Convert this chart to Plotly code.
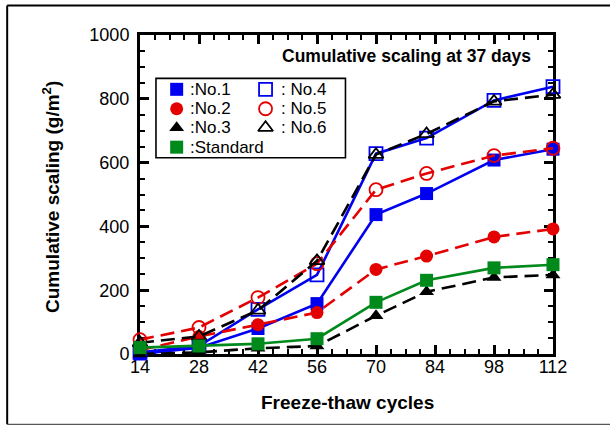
import plotly.graph_objects as go

# ---------------- data ----------------
cycles = [14, 28, 42, 56, 70, 82, 98, 112]
x_ticks = [14, 28, 42, 56, 70, 84, 98, 112]
y_ticks = [0, 200, 400, 600, 800, 1000]

no1 = [0, 20, 80, 158, 437, 503, 608, 642]
no2 = [12, 55, 92, 130, 265, 307, 367, 392]
no3 = [0, 5, 18, 25, 120, 195, 240, 248]
no4 = [5, 25, 140, 248, 628, 677, 795, 838]
no5 = [45, 83, 177, 283, 515, 566, 622, 645]
no6 = [35, 55, 137, 292, 625, 690, 792, 813]
std = [20, 25, 32, 48, 162, 231, 270, 280]

series_names = ["No.1", "No.2", "No.3", "No.4", "No.5", "No.6", "Standard"]
legend_labels = [":No.1", ":No.2", ":No.3", ": No.4", ": No.5", ": No.6", ":Standard"]

BLUE = "#0000f0"
RED = "#e40000"
GREEN = "#008a1c"
BLACK = "#000000"
FONT = "Liberation Sans, Arial, sans-serif"
DASH = "14px,7px"

styles = {
    "No.1": dict(color=BLUE, dash="solid", symbol="square", open=False),
    "No.2": dict(color=RED, dash=DASH, symbol="circle", open=False),
    "No.3": dict(color=BLACK, dash=DASH, symbol="triangle-up", open=False),
    "No.4": dict(color=BLUE, dash="solid", symbol="square-open", open=True),
    "No.5": dict(color=RED, dash=DASH, symbol="circle-open", open=True),
    "No.6": dict(color=BLACK, dash=DASH, symbol="triangle-up-open", open=True),
    "Standard": dict(color=GREEN, dash="solid", symbol="square", open=False),
}
values = {"No.1": no1, "No.2": no2, "No.3": no3, "No.4": no4,
          "No.5": no5, "No.6": no6, "Standard": std}
draw_order = ["No.1", "No.4", "No.2", "No.5", "No.3", "No.6", "Standard"]

fig = go.Figure()


def marker_for(st, size):
    if st["open"]:
        return dict(symbol=st["symbol"], size=size, color=st["color"],
                    line=dict(color=st["color"], width=1.8))
    return dict(symbol=st["symbol"], size=size, color=st["color"],
                line=dict(width=0))


for name in draw_order:
    st = styles[name]
    fig.add_trace(go.Scatter(
        x=cycles, y=values[name], mode="lines+markers", name=name,
        line=dict(color=st["color"], width=2.6, dash=st["dash"]),
        marker=marker_for(st, 13),
        cliponaxis=False, showlegend=False,
    ))

# ------------- hand-built legend (two columns) -------------
leg_x = [0.0888, 0.304]
leg_y = [0.8297, 0.7688, 0.7094, 0.6484]
leg_text_x = [0.1168, 0.3369]
leg_slots = {"No.1": (0, 0), "No.2": (0, 1), "No.3": (0, 2), "Standard": (0, 3),
             "No.4": (1, 0), "No.5": (1, 1), "No.6": (1, 2)}
for name, label in zip(series_names, legend_labels):
    col, row = leg_slots[name]
    st = styles[name]
    fig.add_trace(go.Scatter(
        x=[leg_x[col]], y=[leg_y[row]], xaxis="x2", yaxis="y2",
        mode="markers", marker=marker_for(st, 13), showlegend=False,
        hoverinfo="skip", cliponaxis=False,
    ))
    fig.add_annotation(x=leg_text_x[col], y=leg_y[row], xref="paper", yref="paper",
                       text=label, showarrow=False, xanchor="left", yanchor="middle",
                       font=dict(family=FONT, size=17, color="black"))

fig.add_shape(type="rect", xref="paper", yref="paper",
              x0=0.0387, x1=0.4975, y0=0.615, y1=0.864,
              line=dict(color="black", width=1.6), fillcolor="rgba(0,0,0,0)")

# ------------- texts -------------
fig.add_annotation(x=0.3386, y=0.934, xref="paper", yref="paper",
                   text="Cumulative scaling at 37 days", showarrow=False,
                   xanchor="left", yanchor="middle",
                   font=dict(family=FONT, size=17.5, color="black", weight="bold"))
fig.add_annotation(x=0.5018, y=-0.1528, xref="paper", yref="paper",
                   text="Freeze-thaw cycles", showarrow=False,
                   xanchor="center", yanchor="middle",
                   font=dict(family=FONT, size=19, color="black", weight="bold"))
fig.add_annotation(x=-0.2143, y=0.4938, xref="paper", yref="paper",
                   text="Cumulative scaling (g/m<sup>2</sup>)", showarrow=False,
                   textangle=-90, xanchor="center", yanchor="middle",
                   font=dict(family=FONT, size=19, color="black", weight="bold"))

# ------------- outer frame -------------
fig.add_shape(type="line", xref="paper", yref="paper", x0=-0.3216, x1=1.16,
              y0=1.0922, y1=1.0922, line=dict(color="black", width=2))
fig.add_shape(type="line", xref="paper", yref="paper", x0=-0.3216, x1=-0.3216,
              y0=1.0922, y1=-0.2203, line=dict(color="black", width=2))
fig.add_shape(type="line", xref="paper", yref="paper", x0=-0.3216, x1=1.16,
              y0=-0.2203, y1=-0.2203, line=dict(color="#555555", width=1.2))

axis_common = dict(
    showgrid=False, zeroline=False, showline=True, linecolor="black",
    linewidth=3, mirror="ticks", ticks="inside", tickcolor="black",
    tickwidth=2.5, ticklen=9, layer="below traces",
    tickfont=dict(family=FONT, size=18, color="black"),
)

fig.update_layout(
    width=610, height=426,
    margin=dict(l=140, r=56.5, t=34.5, b=71.5),
    paper_bgcolor="white", plot_bgcolor="white",
    xaxis=dict(range=[14, 112], tickvals=x_ticks, ticktext=[str(v) for v in x_ticks],
               minor=dict(dtick=3.5, tick0=14, ticks="inside", ticklen=5,
                          tickwidth=2, tickcolor="black"),
               ticklabelstandoff=-6, **axis_common),
    yaxis=dict(range=[0, 1000], tickvals=y_ticks,
               minor=dict(dtick=50, tick0=0, ticks="inside", ticklen=5,
                          tickwidth=2, tickcolor="black"),
               ticklabelstandoff=4, **axis_common),
    xaxis2=dict(domain=[0, 1], range=[0, 1], overlaying="x", visible=False,
                fixedrange=True),
    yaxis2=dict(domain=[0, 1], range=[0, 1], overlaying="y", visible=False,
                fixedrange=True, anchor="x2"),
    showlegend=False,
)

fig.write_html("out.html")
